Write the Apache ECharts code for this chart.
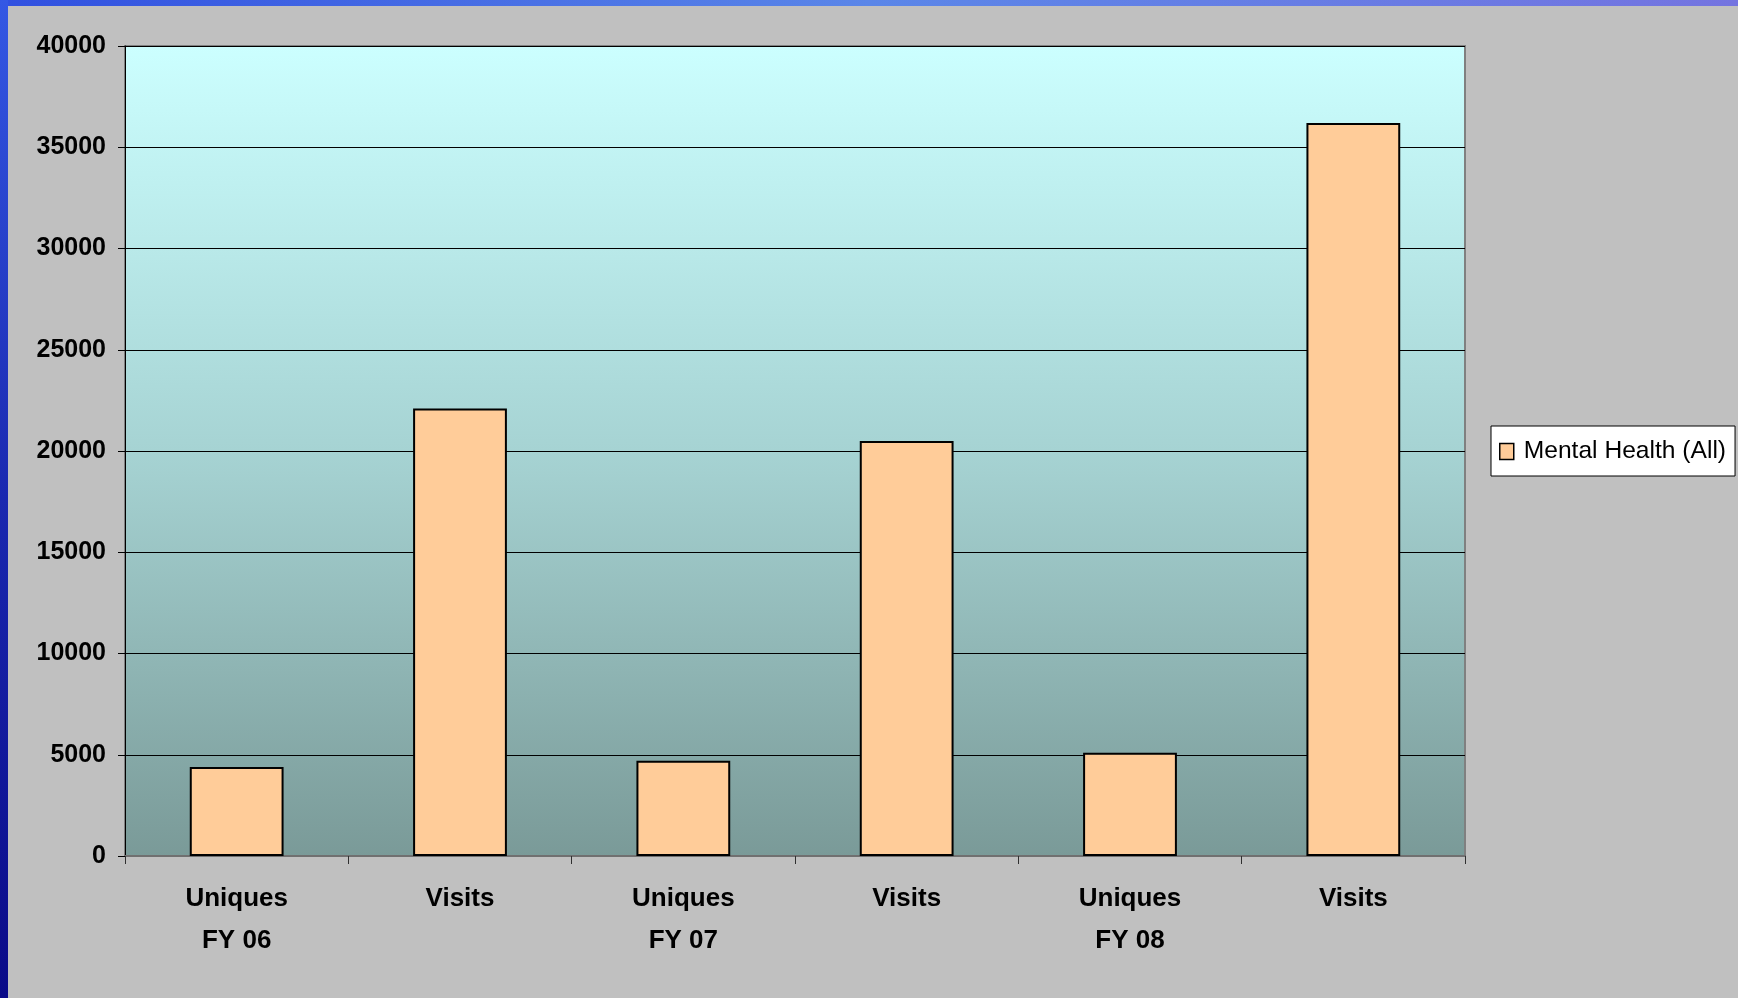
<!DOCTYPE html>
<html>
<head>
<meta charset="utf-8">
<script src="https://cdn.jsdelivr.net/npm/echarts@6/dist/echarts.min.js"></script>
<style>
html,body{margin:0;padding:0;background:#C0C0C0;}
#chart{width:1738px;height:998px;}
</style>
</head>
<body>
<div id="chart"></div>
<script>
const categories = ['Uniques\nFY 06', 'Visits', 'Uniques\nFY 07', 'Visits', 'Uniques\nFY 08', 'Visits'];
const seriesName = 'Mental Health (All)';
const values = [4400, 22100, 4700, 20500, 5100, 36200];
const yTicks = { min: 0, max: 40000, interval: 5000 };

const chart = echarts.init(document.getElementById('chart'), null, { renderer: 'canvas' });
const FONT = '"Liberation Sans", Arial, sans-serif';

chart.setOption({
  backgroundColor: '#C0C0C0',
  animation: false,
  graphic: [
    {
      type: 'rect', left: 0, top: 0, z: 100,
      shape: { x: 0, y: 0, width: 1738, height: 6 },
      style: { fill: { type: 'linear', x: 0, y: 0, x2: 1, y2: 0,
        colorStops: [{ offset: 0, color: '#3050E0' }, { offset: 0.5, color: '#5A86E8' }, { offset: 1, color: '#7474E0' }] } }
    },
    {
      type: 'rect', left: 0, top: 0, z: 101,
      shape: { x: 0, y: 0, width: 8, height: 998 },
      style: { fill: { type: 'linear', x: 0, y: 0, x2: 0, y2: 1,
        colorStops: [{ offset: 0, color: '#3458E4' }, { offset: 0.5, color: '#1A28B0' }, { offset: 1, color: '#0A0A88' }] } }
    }
  ],
  grid: {
    left: 125, top: 46, right: 273, bottom: 142,
    show: true,
    borderColor: '#808080',
    borderWidth: 2,
    backgroundColor: { type: 'linear', x: 0, y: 0, x2: 0, y2: 1,
      colorStops: [{ offset: 0, color: '#CCFFFF' }, { offset: 0.5, color: '#A6D3D3' }, { offset: 1, color: '#7A9A98' }] }
  },
  legend: {
    show: true,
    left: 1491, top: 426,
    orient: 'vertical',
    backgroundColor: '#FFFFFF',
    borderColor: '#000000',
    borderWidth: 1,
    padding: [13, 9, 12, 8],
    itemWidth: 14, itemHeight: 16,
    icon: 'rect',
    itemStyle: { color: '#FFCC99', borderColor: '#000000', borderWidth: 1.5 },
    textStyle: { fontFamily: FONT, fontSize: 24.6, color: '#000000', padding: [0, 0, 0, 5] },
    data: [seriesName]
  },
  xAxis: {
    type: 'category',
    data: categories,
    boundaryGap: true,
    axisLine: { show: true, lineStyle: { color: '#707070', width: 2 } },
    axisTick: { show: true, length: 8, alignWithLabel: false, lineStyle: { color: '#303030', width: 1 } },
    axisLabel: { interval: 0, margin: 22, fontFamily: FONT, fontSize: 26, fontWeight: 'bold', color: '#000000', lineHeight: 42 },
    splitLine: { show: false }
  },
  yAxis: {
    type: 'value',
    min: yTicks.min, max: yTicks.max, interval: yTicks.interval,
    axisLine: { show: true, lineStyle: { color: '#000000', width: 1 } },
    axisTick: { show: true, length: 7, lineStyle: { color: '#000000', width: 1 } },
    axisLabel: { margin: 19, fontFamily: FONT, fontSize: 25, fontWeight: 'bold', color: '#000000',
      formatter: function (v) { return String(v); } },
    splitLine: { show: true, lineStyle: { color: '#000000', width: 1 } }
  },
  series: [{
    name: seriesName,
    type: 'bar',
    data: values,
    barCategoryGap: '58%',
    itemStyle: { color: '#FFCC99', borderColor: '#000000', borderWidth: 2 }
  }]
});
</script>
</body>
</html>
